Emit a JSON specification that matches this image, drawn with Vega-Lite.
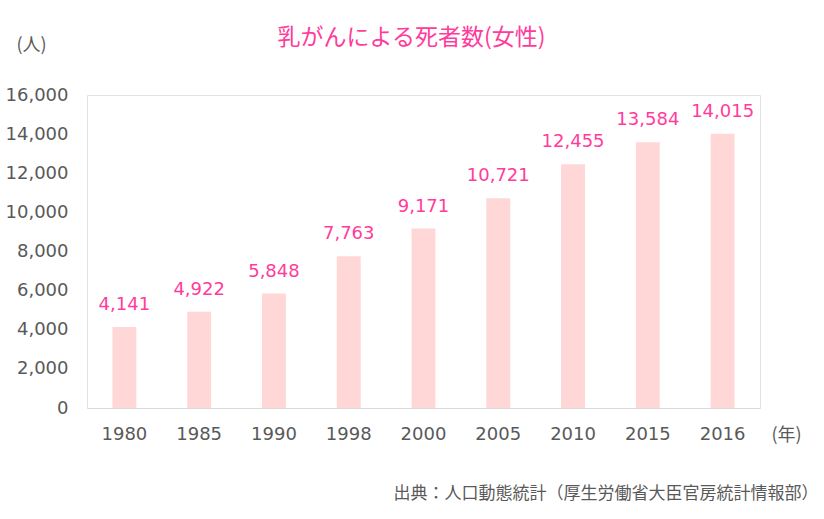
{
  "$schema": "https://vega.github.io/schema/vega-lite/v6.json",
  "width": 673,
  "height": 313,
  "autosize": "none",
  "padding": {"left": 87, "top": 95, "right": 64, "bottom": 111},
  "background": "white",
  "config": {
    "view": {"stroke": "#e2e2e2", "strokeWidth": 1},
    "font": "DejaVu Sans"
  },
  "title": {
    "text": "乳がんによる死者数(女性)",
    "font": "Noto Sans CJK JP",
    "fontSize": 23,
    "fontWeight": "normal",
    "color": "#ff3c9c",
    "anchor": "middle",
    "dx": -12,
    "offset": -14
  },
  "data": {
    "values": [
      {"year": "1980", "deaths": 4141},
      {"year": "1985", "deaths": 4922},
      {"year": "1990", "deaths": 5848},
      {"year": "1998", "deaths": 7763},
      {"year": "2000", "deaths": 9171},
      {"year": "2005", "deaths": 10721},
      {"year": "2010", "deaths": 12455},
      {"year": "2015", "deaths": 13584},
      {"year": "2016", "deaths": 14015}
    ]
  },
  "encoding": {
    "x": {
      "field": "year",
      "type": "nominal",
      "sort": null,
      "scale": {"paddingInner": 0.68, "paddingOuter": 0.34},
      "axis": {
        "title": "(年)",
        "titleFont": "Noto Sans CJK JP",
        "titleFontSize": 18,
        "titleFontWeight": "normal",
        "titleColor": "#595959",
        "titleX": 699,
        "titleY": 27,
        "titleAlign": "center",
        "titleBaseline": "middle",
        "labelAngle": 0,
        "labelFontSize": 18,
        "labelColor": "#595959",
        "labelPadding": 17,
        "ticks": false,
        "domainColor": "#d9d9d9",
        "grid": false
      }
    }
  },
  "layer": [
    {
      "mark": {"type": "bar", "color": "#ffd7d7"},
      "encoding": {
        "y": {
          "field": "deaths",
          "type": "quantitative",
          "scale": {"domain": [0, 16000]},
          "axis": {
            "values": [0, 2000, 4000, 6000, 8000, 10000, 12000, 14000, 16000],
            "format": ",d",
            "title": "(人)",
            "titleFont": "Noto Sans CJK JP",
            "titleFontSize": 18,
            "titleFontWeight": "normal",
            "titleColor": "#595959",
            "titleAngle": 0,
            "titleX": -56,
            "titleY": -50,
            "titleAlign": "center",
            "titleBaseline": "middle",
            "labelFontSize": 18,
            "labelColor": "#595959",
            "labelPadding": 19,
            "ticks": false,
            "domain": false,
            "grid": false
          }
        }
      }
    },
    {
      "mark": {
        "type": "text",
        "fontSize": 18,
        "color": "#ff3c9c",
        "baseline": "alphabetic",
        "dy": -17
      },
      "encoding": {
        "y": {
          "field": "deaths",
          "type": "quantitative",
          "scale": {"domain": [0, 16000]},
          "axis": {
            "orient": "right",
            "title": "出典：人口動態統計（厚生労働省大臣官房統計情報部）",
            "titleFont": "Noto Sans CJK JP",
            "titleFontSize": 17,
            "titleFontWeight": "normal",
            "titleColor": "#595959",
            "titleAngle": 0,
            "titleX": 58,
            "titleY": 398,
            "titleAlign": "right",
            "titleBaseline": "middle",
            "labels": false,
            "ticks": false,
            "domain": false,
            "grid": false
          }
        },
        "text": {"field": "deaths", "type": "quantitative", "format": ",d"}
      }
    }
  ],
  "resolve": {"scale": {"y": "independent"}}
}
